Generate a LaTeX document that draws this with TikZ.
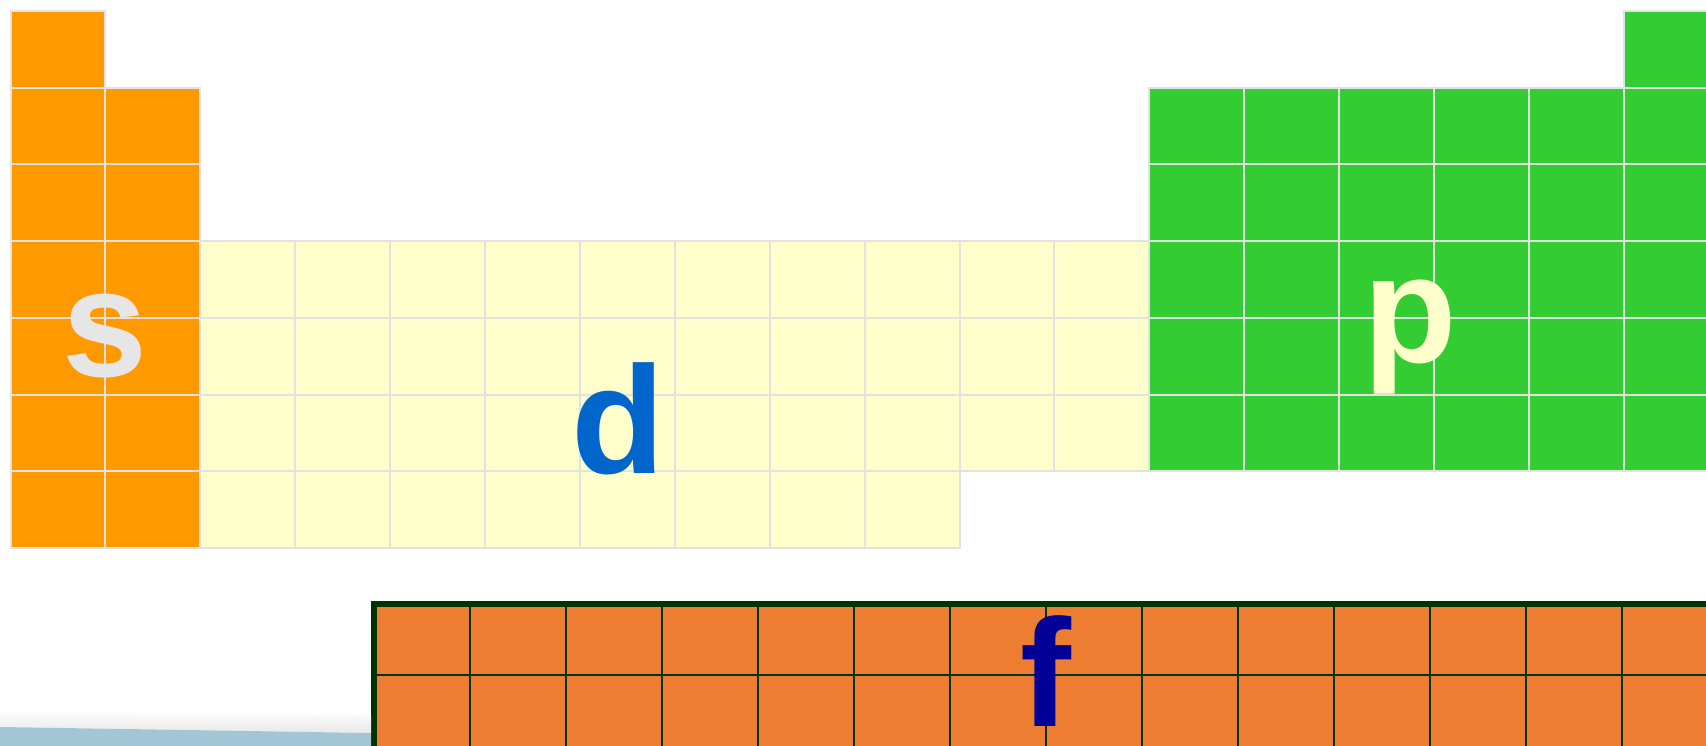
\documentclass[tikz,border=0pt]{standalone}
\usepackage{fontspec}
\setmainfont{Liberation Sans}
\definecolor{sorange}{HTML}{FF9900}
\definecolor{dyellow}{HTML}{FFFFCC}
\definecolor{pgreen}{HTML}{33CC33}
\definecolor{forange}{HTML}{ED7D31}
\definecolor{fline}{HTML}{003300}
\definecolor{gridgray}{HTML}{E2E2E2}
\definecolor{sletter}{HTML}{E6E6E6}
\definecolor{dletter}{HTML}{0066CC}
\definecolor{fletter}{HTML}{000099}
\definecolor{stripe}{HTML}{A3C6D6}
\begin{document}
\begin{tikzpicture}[x=1pt,y=-1pt,
  cell/.style={draw=gridgray,line width=2pt},
  fgrid/.style={draw=fline,line width=2.3pt},
  fborder/.style={draw=fline,line width=6pt},
  letter/.style={inner sep=0pt,anchor=base,font=\fontsize{153}{153}\selectfont\bfseries}]
\useasboundingbox (0,0) rectangle (1706,746);
\clip (0,0) rectangle (1706,746);
\def\cw{94.9}\def\rh{76.7}\def\xo{10.5}\def\yo{11}
\newcommand\cellat[3]{\filldraw[cell,fill=#3] ({\xo+(#1-1)*\cw},{\yo+(#2-1)*\rh}) rectangle ++(\cw,\rh);}
% s block
\foreach \r in {1,...,7} {\cellat{1}{\r}{sorange}}
\foreach \r in {2,...,7} {\cellat{2}{\r}{sorange}}
% d block
\foreach \c in {3,...,12} {\foreach \r in {4,5,6} {\cellat{\c}{\r}{dyellow}}}
\foreach \c in {3,...,10} {\cellat{\c}{7}{dyellow}}
% p block
\foreach \c in {13,...,18} {\foreach \r in {2,...,6} {\cellat{\c}{\r}{pgreen}}}
\cellat{18}{1}{pgreen}
% f block
\fill[forange] (374,603.7) rectangle (1760,790);
\foreach \k in {1,...,14} {\draw[fgrid] ({374+\k*96},603.7) -- ++(0,190);}
\draw[fgrid] (374,675.3) -- (1760,675.3);
\draw[fborder] (374,790) -- (374,603.7) -- (1760,603.7);
% bottom-left stripe
\shade[top color=white,bottom color=gray!18] (0,710) -- (371,716) -- (371,733) -- (0,727) -- cycle;
\fill[stripe] (0,727) -- (371,733) -- (371,746) -- (0,746) -- cycle;
% letters
\node[letter,text=sletter] (s) at (105,376) {s};
\node[letter,text=dletter] (d) at (618,473) {d};
\node[letter,text=dyellow] (p) at (1410,362) {p};
\node[letter,text=fletter] (f) at (1046,726) {f};
\end{tikzpicture}
\end{document}
